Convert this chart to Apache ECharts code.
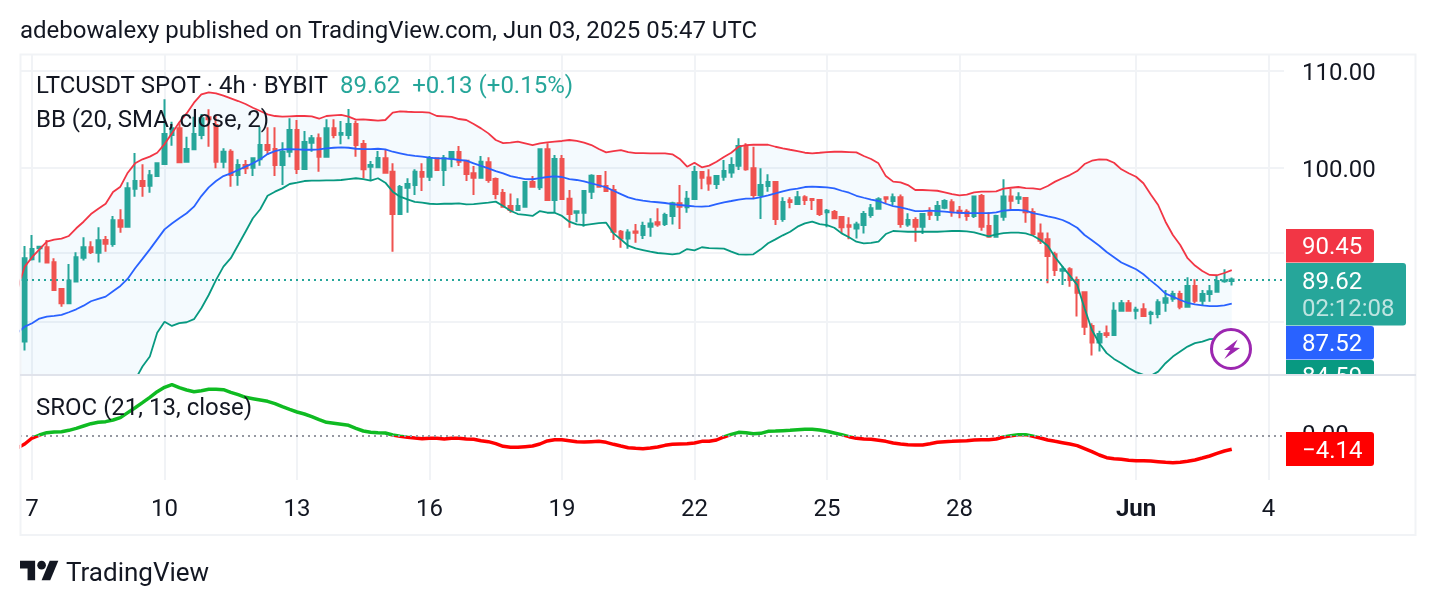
<!DOCTYPE html>
<html>
<head>
<meta charset="utf-8">
<title>LTCUSDT 4h</title>
<script src="https://cdn.jsdelivr.net/npm/echarts@6/dist/echarts.min.js"></script>
<style>
  html, body { margin: 0; padding: 0; background: #fff; }
  #chart { width: 1436px; height: 606px; }
</style>
</head>
<body>
<div id="chart"></div>
<script>
// 4h LTCUSDT bars, x is the bar number; bar 1 opens 7 May 2025 00:00 UTC
const opens = [
  84.32,91.43,92.41,92.51,91.16,88.80,87.55,89.44,91.55,92.51,
  92.02,93.17,92.80,94.99,94.40,97.99,98.73,98.28,99.21,100.39,
  103.29,103.97,100.62,101.85,103.29,105.1,104.31,100.62,101.61,99.31,
  100.30,100.03,100.86,102.28,101.88,100.30,101.61,103.80,99.90,102.52,
  102.97,101.12,103.97,103.32,103.29,104.42,102.38,100.13,100.07,100.96,
  99.64,95.58,98.08,98.34,99.60,99.14,100.96,99.80,100.96,101.58,
  100.72,99.48,99.05,100.56,98.92,97.57,96.33,95.96,96.27,98.64,
  98.12,101.85,96.91,100.89,97.03,95.70,95.70,97.70,99.21,98.25,
  97.86,93.93,93.32,93.96,93.63,94.40,94.80,94.64,95.40,96.59,
  96.21,97.0,99.60,99.08,98.44,99.14,99.57,100.23,102.18,99.97,
  97.38,98.25,98.64,95.11,96.88,96.52,97.17,97.0,96.91,95.74,
  95.77,95.30,94.52,94.24,94.55,95.49,96.08,97.17,96.81,97.17,
  94.61,95.02,94.40,95.70,95.49,96.18,96.69,95.89,95.80,95.40,
  97.28,94.46,93.48,95.33,97.25,97.03,97.10,95.77,93.78,93.23,
  91.87,90.41,90.53,89.59,88.50,85.63,84.24,85.01,84.87,86.92,
  87.55,86.92,87.04,86.64,86.64,87.60,87.95,88.36,87.26,89.06,
  87.78,88.36,88.56,89.47,89.49
];
const highs = [
  92.62,93.63,92.62,93.17,91.52,88.86,91.01,92.05,93.42,93.05,
  94.34,93.54,95.40,96.03,98.60,101.48,100.36,99.80,100.56,106.98,
  104.65,104.49,103.12,105.17,105.45,105.93,105.35,101.95,101.85,100.86,
  100.79,100.96,104.14,104.08,104.08,102.55,105.00,104.83,103.70,103.29,
  103.46,104.90,104.90,104.73,105.96,104.76,102.79,100.69,101.68,101.85,
  100.46,98.34,98.99,99.87,100.46,101.19,101.06,101.29,101.68,102.18,
  100.79,100.20,101.19,101.06,99.08,97.96,97.53,97.07,98.73,99.21,
  101.85,102.45,101.29,101.29,97.86,95.89,97.86,99.38,99.31,99.70,
  98.34,94.09,94.15,94.64,94.86,95.18,96.12,95.70,96.75,98.34,
  97.76,100.20,99.63,99.87,99.31,100.79,101.06,102.97,102.45,102.11,
  99.97,99.38,98.70,97.17,97.17,97.76,97.35,97.05,96.95,96.05,
  95.96,95.35,95.27,94.86,95.86,96.52,97.17,97.25,97.53,97.44,
  95.65,95.27,95.65,96.21,96.81,96.97,96.97,96.33,96.03,97.30,
  97.47,95.74,95.52,98.90,97.96,97.64,97.17,96.12,94.70,93.87,
  92.11,90.83,90.71,89.88,88.56,85.86,85.23,85.66,87.64,87.84,
  87.84,87.26,87.55,86.92,87.90,88.71,88.65,88.65,89.83,89.65,
  88.71,89.15,89.94,90.53,89.80
];
const lows = [
  83.58,91.31,91.13,91.13,88.71,87.26,87.49,89.44,91.31,91.90,
  91.13,92.11,92.56,93.84,94.40,97.22,97.22,97.60,99.21,100.39,
  102.21,100.53,100.59,101.85,102.86,102.11,99.97,99.97,98.18,98.28,
  99.41,99.21,100.23,101.29,99.21,98.34,101.06,99.41,99.80,101.61,
  99.63,101.12,102.97,102.35,102.86,101.12,99.0,98.76,100.0,99.48,
  92.11,95.58,95.70,97.38,97.76,98.73,99.73,98.25,100.07,100.20,
  98.73,97.38,99.05,98.57,96.97,96.21,95.70,95.96,96.21,98.18,
  97.86,96.91,95.70,96.97,94.30,94.80,94.40,97.0,98.18,97.76,
  93.17,92.47,92.38,92.92,93.26,93.48,94.40,94.46,94.61,94.18,
  95.70,97.0,97.93,97.79,97.96,98.76,99.05,99.80,99.73,97.0,
  95.11,97.70,94.55,94.86,96.12,96.52,96.43,95.96,95.40,94.34,
  95.11,93.78,93.23,93.32,93.78,95.24,96.03,96.52,96.43,94.30,
  94.40,93.02,93.72,95.02,94.95,96.03,95.33,95.18,94.95,95.21,
  94.03,93.48,93.48,94.95,96.05,96.52,94.77,93.63,92.80,89.30,
  89.94,89.15,89.0,86.42,84.87,83.17,83.50,84.65,84.87,86.83,
  86.89,86.20,86.42,85.77,86.28,86.83,87.69,87.04,87.26,87.55,
  87.32,87.69,88.56,89.35,89.09
];
const closes = [
  91.52,92.35,92.56,91.13,88.71,87.55,89.53,91.61,92.51,92.08,
  93.14,92.83,94.99,94.40,98.03,98.73,98.25,99.28,100.46,103.39,
  103.97,100.56,101.88,103.39,105.00,104.9,100.62,101.61,99.31,100.30,
  99.97,100.96,102.28,101.78,100.30,101.61,103.80,99.90,102.59,102.97,
  101.12,103.97,103.29,103.49,104.42,102.28,99.87,100.30,100.99,99.54,
  95.58,98.15,98.44,99.64,99.14,100.96,99.80,100.96,101.58,100.62,
  99.41,99.05,100.62,98.83,97.47,96.27,95.96,96.33,98.64,98.18,
  101.85,96.91,100.89,97.0,95.58,95.83,97.76,99.24,98.18,97.76,
  93.93,93.32,93.87,93.84,94.46,94.70,94.61,95.49,96.59,96.27,
  97.03,99.60,99.05,98.50,99.21,99.70,100.30,102.18,99.87,97.38,
  98.34,98.64,95.11,96.72,96.72,97.17,96.91,96.91,95.58,95.89,
  95.18,94.34,94.40,94.61,95.58,96.12,96.97,97.03,97.17,94.64,
  95.02,94.40,95.58,95.52,96.33,96.81,95.74,95.70,95.40,97.25,
  94.40,93.48,95.40,97.25,96.84,97.17,95.74,93.72,93.11,91.73,
  90.47,90.53,89.59,88.47,85.57,84.24,84.96,84.87,86.92,87.55,
  86.92,87.0,86.47,86.75,87.64,87.99,88.36,87.26,89.06,87.78,
  88.36,88.60,89.50,89.53,89.62
];

// Bollinger Bands (20, SMA, close, 2); the first entry of each is the bar before the first candle
const bbUpper = [
  88.74,
  90.77,91.61,92.32,93.02,93.20,93.29,93.54,94.25,94.86,95.58,
  96.08,96.55,97.67,98.18,99.54,100.46,100.86,101.12,101.51,102.38,
  103.46,104.59,105.51,106.63,107.50,107.72,107.61,107.36,107.08,106.80,
  106.49,106.10,105.76,105.41,105.24,105.17,105.21,105.24,105.24,105.21,
  104.96,105.24,105.31,105.35,105.17,104.86,104.90,104.83,104.76,104.83,
  105.58,105.72,105.68,105.65,105.65,105.58,105.24,105.21,105.14,104.93,
  104.83,104.42,103.97,103.46,102.79,102.48,102.52,102.62,102.45,102.28,
  102.45,102.55,102.62,102.69,102.79,102.69,102.52,102.28,101.88,101.55,
  101.68,101.78,101.58,101.48,101.48,101.45,101.45,101.45,101.35,100.89,
  100.13,100.52,100.07,100.23,100.62,101.09,101.51,102.11,102.28,102.31,
  102.31,102.31,102.11,101.95,101.81,101.68,101.51,101.45,101.51,101.58,
  101.61,101.61,101.58,101.55,101.19,100.89,100.46,99.21,98.67,98.60,
  98.34,97.86,97.86,97.83,97.79,97.64,97.47,97.35,97.41,97.64,
  97.70,97.70,97.73,97.99,98.08,98.15,98.05,98.02,97.93,98.25,
  98.67,99.0,99.31,99.70,100.39,100.72,100.86,100.82,100.52,99.87,
  99.48,99.14,98.51,97.44,96.43,94.86,93.63,92.71,91.52,90.86,
  90.38,90.03,90.0,90.20,90.45
];
const bbBasis = [
  85.05,
  85.57,85.86,86.25,86.42,86.48,86.56,86.79,87.04,87.35,87.73,
  87.93,88.13,88.60,89.06,89.70,90.62,91.46,92.32,93.23,94.15,
  94.70,95.18,95.65,96.27,97.28,98.12,98.73,99.21,99.48,99.80,
  100.13,100.46,100.86,101.38,101.68,101.85,101.88,101.85,101.81,101.81,
  101.85,101.95,102.01,102.05,102.01,101.91,101.88,101.88,101.91,101.85,
  101.61,101.45,101.29,101.19,101.12,101.02,100.96,100.96,100.89,100.79,
  100.72,100.46,100.20,99.97,99.70,99.48,99.21,99.05,98.92,98.90,
  99.0,99.12,99.19,99.12,98.92,98.83,98.70,98.51,98.32,98.12,
  97.79,97.47,97.15,96.97,96.84,96.75,96.69,96.62,96.52,96.43,
  96.36,96.31,96.27,96.33,96.52,96.69,96.81,96.94,97.03,97.03,
  97.19,97.35,97.54,97.73,97.89,97.99,98.15,98.18,98.15,98.12,
  98.02,97.79,97.60,97.31,97.12,96.94,96.81,96.55,96.33,96.21,
  96.03,95.86,95.86,95.89,95.86,95.80,95.74,95.70,95.67,95.67,
  95.67,95.67,95.74,95.89,95.96,95.96,95.89,95.67,95.52,95.36,
  95.21,95.02,94.70,94.30,93.63,93.14,92.65,92.08,91.61,91.13,
  90.83,90.53,90.09,89.53,89.0,88.39,88.13,87.84,87.60,87.47,
  87.38,87.32,87.32,87.38,87.52
];
const bbLower = [
  80.50,
  80.37,80.11,80.18,79.82,79.76,79.83,80.04,79.83,79.84,79.88,
  79.78,79.71,79.53,79.94,79.86,81.21,82.28,83.09,85.06,85.99,
  85.63,85.86,85.94,86.20,87.13,88.27,89.59,90.77,91.52,92.71,
  93.93,95.18,96.03,97.31,97.70,98.02,98.44,98.57,98.73,98.76,
  98.76,98.80,98.80,98.83,98.92,99.0,98.92,98.76,99.0,98.57,
  97.70,97.22,96.97,96.72,96.65,96.55,96.52,96.55,96.55,96.59,
  96.49,96.52,96.59,96.65,96.75,96.33,95.89,95.58,95.49,95.40,
  95.86,95.70,95.70,95.40,94.86,94.61,94.55,94.64,94.73,94.77,
  93.78,93.23,92.65,92.41,92.26,92.11,91.99,91.93,91.87,91.96,
  92.35,92.23,92.51,92.44,92.41,92.38,92.11,91.87,91.84,91.87,
  92.32,92.87,93.23,93.60,93.93,94.40,94.70,94.86,94.64,94.55,
  94.30,93.78,93.42,93.02,92.87,92.90,93.02,93.72,94.0,93.97,
  93.93,93.93,93.93,93.93,93.93,93.97,94.0,94.0,93.97,93.87,
  93.69,93.51,93.69,93.81,93.84,93.84,93.78,93.56,93.17,92.65,
  91.61,90.77,89.97,89.15,87.13,85.29,84.19,83.37,82.90,82.55,
  82.17,81.83,81.61,81.53,81.87,82.55,83.09,83.50,83.91,84.19,
  84.32,84.52,84.55,84.57,84.59
];

// SROC (21, 13, close); the first entry is the bar before the first candle
const sroc = [
  -3.75,
  -2.5,-0.63,0.31,1.04,1.25,1.35,1.77,2.4,3.13,3.85,
  4.27,4.48,5.0,5.73,7.29,8.85,10.42,12.08,13.85,15.21,
  16.04,15.1,14.38,13.85,14.17,14.58,14.58,14.48,13.65,12.92,
  12.08,11.67,11.25,10.83,10.1,9.17,8.33,7.5,6.88,6.04,
  5.1,4.27,3.96,3.65,3.33,2.4,1.56,1.15,1.04,0.94,
  0.31,-0.1,-0.42,-0.63,-0.83,-0.73,-0.73,-0.94,-0.73,-0.73,
  -0.94,-1.04,-1.46,-1.77,-2.4,-3.23,-3.54,-3.54,-3.33,-3.13,
  -2.5,-1.56,-1.15,-1.15,-1.46,-1.77,-1.88,-1.77,-1.67,-1.98,
  -2.6,-3.13,-3.65,-3.85,-3.96,-3.75,-3.44,-2.92,-2.6,-2.5,
  -2.4,-2.19,-1.67,-1.67,-1.25,-0.31,0.52,1.15,1.04,0.73,
  0.83,1.46,1.56,1.67,1.77,1.98,2.08,2.08,1.88,1.46,
  0.94,0.42,-0.21,-0.73,-0.94,-1.04,-1.35,-1.67,-2.19,-2.5,
  -2.71,-2.81,-2.81,-2.4,-1.98,-1.77,-1.67,-1.56,-1.46,-1.25,
  -1.15,-1.15,-0.94,-0.31,0.1,0.42,0.42,-0.1,-0.63,-1.25,
  -1.67,-2.08,-2.5,-3.02,-3.96,-4.9,-5.94,-6.77,-7.08,-7.29,
  -7.6,-7.71,-7.71,-7.81,-8.02,-8.23,-8.33,-8.23,-7.92,-7.5,
  -6.88,-6.25,-5.42,-4.69,-4.14
];

// Day ticks by bar number, and price axis levels
const dayTicks = [1, 19, 37, 55, 73, 91, 109, 127, 151, 169];
const dayLabels = ['7','10','13','16','19','22','25','28','Jun','4'];
const priceLabels = [110, 100];
const priceGrid = [110, 100, 92, 86];
const changeAbs = 0.13;
const changePct = 0.15;

const last = closes.length - 1;
const xMin = -0.64;
const xMax = 171.1;
const srocMin = -13.75;
const srocMax = 18.75;
// Indicator arrays hold one extra leading bar, numbered -1
const withBar = arr => arr.map((v, i) => [i - 1, v]);
const lastOf = arr => arr[arr.length - 1];

const UP = '#26a69a', DOWN = '#ef5350', INK = '#131722', GRID = '#f1f3f6';
const FONT = 'Roboto, sans-serif';

const candleData = closes.map((c, i) => [i, opens[i], c, lows[i], highs[i]]);

function bandPolygon(params, api) {
  if (params.dataIndex !== 0) return null;
  const upper = withBar(bbUpper).map(p => api.coord(p));
  const lower = withBar(bbLower).map(p => api.coord(p)).reverse();
  return {
    type: 'polygon',
    shape: { points: upper.concat(lower) },
    style: { fill: 'rgba(33,150,243,0.05)', stroke: 'none' },
    silent: true
  };
}

const bandLine = (data, color) => ({
  type: 'line', xAxisIndex: 0, yAxisIndex: 0, data: withBar(data),
  symbol: 'none', z: 4, silent: true,
  lineStyle: { color, width: 1.8 }
});

const txt = (text, x, y, opt = {}) => ({
  type: 'text', z: opt.z || 100, silent: true,
  style: Object.assign({
    text, x, y, fill: INK, font: '24px ' + FONT, textVerticalAlign: 'middle', textAlign: 'left'
  }, opt)
});
const tag = (x, y, w, h, fill) => ({
  type: 'rect', z: 90, silent: true,
  shape: { x, y, width: w, height: h, r: [0, 3, 3, 0] },
  style: { fill }
});

const graphics = [
  txt('adebowalexy published on TradingView.com, Jun 03, 2025 05:47 UTC', 20, 32),
  txt('LTCUSDT SPOT · 4h · BYBIT', 36, 86.5),
  txt(closes[last].toFixed(2) + '  +' + changeAbs.toFixed(2) + ' (+' + changePct.toFixed(2) + '%)', 340, 86.5, { fill: UP }),
  txt('BB (20, SMA, close, 2)', 36, 120.5),
  txt('SROC (21, 13, close)', 36, 408.5),

  // Left margin keeps thick indicator strokes inside the frame
  { type: 'rect', z: 50, silent: true, shape: { x: 0, y: 50, width: 19.5, height: 440 }, style: { fill: '#fff' } },

  // Outer frame and pane separator
  { type: 'rect', z: 51, silent: true, shape: { x: 20.5, y: 54.5, width: 1395, height: 480.5 },
    style: { fill: 'none', stroke: GRID, lineWidth: 2 } },

  // Last-value tags on the price scale
  tag(1286, 360, 88, 33, '#089981'),
  txt(lastOf(bbLower).toFixed(2), 1302, 378, { fill: '#fff', z: 91 }),
  { type: 'rect', z: 95, silent: true, shape: { x: 1284, y: 375, width: 130, height: 20 }, style: { fill: '#fff' } },
  { type: 'rect', z: 96, silent: true, shape: { x: 20, y: 374, width: 1396, height: 2 }, style: { fill: '#e0e3eb' } },
  tag(1286, 229, 88, 33.5, '#f23645'),
  txt(lastOf(bbUpper).toFixed(2), 1302, 247.5, { fill: '#fff' }),
  tag(1286, 326, 88, 33.5, '#2962ff'),
  txt(lastOf(bbBasis).toFixed(2), 1302, 344.5, { fill: '#fff' }),
  tag(1286, 263, 120, 62.5, UP),
  txt(closes[last].toFixed(2), 1302, 282.5, { fill: '#fff' }),
  txt('02:12:08', 1302, 310, { fill: 'rgba(255,255,255,0.7)' }),
  tag(1286, 432, 88, 34, '#ff0000'),
  txt('\u2212' + Math.abs(lastOf(sroc)).toFixed(2), 1302, 451.5, { fill: '#fff' }),

  // Flash icon
  { type: 'group', x: 1231, y: 349, z: 92, silent: true, children: [
    { type: 'circle', z: 92, shape: { cx: 0, cy: 0, r: 19.5 }, style: { fill: '#fff', stroke: '#9c27b0', lineWidth: 3 } },
    { type: 'polygon', z: 93, shape: { points: [[6.7,-9.5],[-7,1],[-0.7,1],[-6.7,10],[9,-1],[2.5,-1.5]] }, style: { fill: '#9c27b0' } }
  ]},

  // Brand mark
  { type: 'group', x: 20, y: 556.5, scaleX: 1.08, scaleY: 1.08, z: 100, silent: true, children: [
    { type: 'polygon', shape: { points: [[0,4],[14,4],[14,22],[7,22],[7,11],[0,11]] }, style: { fill: INK } },
    { type: 'circle', shape: { cx: 20, cy: 8, r: 4 }, style: { fill: INK } },
    { type: 'polygon', shape: { points: [[27.5,4],[35.5,4],[28,22],[20,22]] }, style: { fill: INK } }
  ]},
  txt('TradingView', 66, 574.5, { font: '26px ' + FONT })
];

// SROC pane spans y 376..480; the line turns from green to red where it crosses zero
const zeroStop = srocMax / (srocMax - srocMin);
const srocColor = {
  type: 'linear', global: true, x: 0, y: 376, x2: 0, y2: 480,
  colorStops: [
    { offset: 0, color: '#0fbb22' }, { offset: zeroStop, color: '#0fbb22' },
    { offset: zeroStop, color: '#ff0000' }, { offset: 1, color: '#ff0000' }
  ]
};

const chart = echarts.init(document.getElementById('chart'), null, { renderer: 'canvas' });
chart.setOption({
  animation: false,
  backgroundColor: '#fff',
  textStyle: { fontFamily: FONT },
  grid: [
    { left: 20, right: 152, top: 54, height: 321 },
    { left: 20, right: 152, top: 376, height: 104 }
  ],
  xAxis: [
    {
      type: 'value', gridIndex: 0, min: xMin, max: xMax,
      axisLine: { show: false },
      axisLabel: { show: false },
      axisTick: { show: false, customValues: dayTicks },
      splitLine: { show: true, lineStyle: { color: GRID, width: 2 } }
    },
    {
      type: 'value', gridIndex: 1, min: xMin, max: xMax,
      axisLine: { show: false },
      axisTick: { show: false, customValues: dayTicks },
      splitLine: { show: true, lineStyle: { color: GRID, width: 2 } },
      axisLabel: {
        customValues: dayTicks, margin: 18, color: INK, fontFamily: FONT, fontSize: 24,
        hideOverlap: false,
        formatter: v => {
          const label = dayLabels[dayTicks.indexOf(v)];
          return label === 'Jun' ? '{b|Jun}' : label;
        },
        rich: { b: { fontWeight: 'bold', fontFamily: FONT, fontSize: 24, color: INK } }
      }
    }
  ],
  yAxis: [
    {
      type: 'log', gridIndex: 0, position: 'right', logBase: 10, min: 81.6, max: 111.85,
      axisLine: { show: false },
      axisTick: { show: false, customValues: priceGrid },
      splitLine: { show: true, lineStyle: { color: GRID, width: 2 } },
      axisLabel: {
        customValues: priceLabels, margin: 18, color: INK, fontFamily: FONT, fontSize: 24,
        formatter: v => '{p|' + Number(v).toFixed(2) + '}',
        rich: { p: { fontFamily: FONT, fontSize: 24, color: INK, padding: [6, 0, 0, 0] } }
      }
    },
    {
      type: 'value', gridIndex: 1, position: 'right', min: srocMin, max: srocMax,
      axisLine: { show: false },
      axisTick: { show: false, customValues: [0] },
      splitLine: { show: false },
      axisLabel: {
        customValues: [0], margin: 18, color: INK, fontFamily: FONT, fontSize: 24,
        formatter: v => Number(v).toFixed(2)
      }
    }
  ],
  series: [
    {
      type: 'custom', xAxisIndex: 0, yAxisIndex: 0, clip: true, z: 1, silent: true,
      data: [[0, closes[0]]],
      renderItem: bandPolygon
    },
    {
      type: 'candlestick', xAxisIndex: 0, yAxisIndex: 0, data: candleData, z: 3, silent: true,
      barWidth: 4,
      itemStyle: { color: UP, color0: DOWN, borderColor: UP, borderColor0: DOWN, borderWidth: 2 },
      markLine: {
        silent: true, symbol: 'none', animation: false,
        label: { show: false },
        lineStyle: { color: UP, type: [2, 4], width: 2 },
        data: [{ yAxis: closes[last] }]
      }
    },
    bandLine(bbUpper, '#f23645'),
    bandLine(bbBasis, '#2962ff'),
    bandLine(bbLower, '#089981'),
    {
      type: 'line', xAxisIndex: 1, yAxisIndex: 1, data: withBar(sroc), z: 4,
      symbol: 'none', silent: true,
      lineStyle: { width: 3.5, color: srocColor },
      markLine: {
        silent: true, symbol: 'none', animation: false,
        label: { show: false },
        lineStyle: { color: '#9598a1', type: [2, 4], width: 2 },
        data: [{ yAxis: 0 }]
      }
    }
  ],
  graphic: graphics
});
</script>
</body>
</html>
